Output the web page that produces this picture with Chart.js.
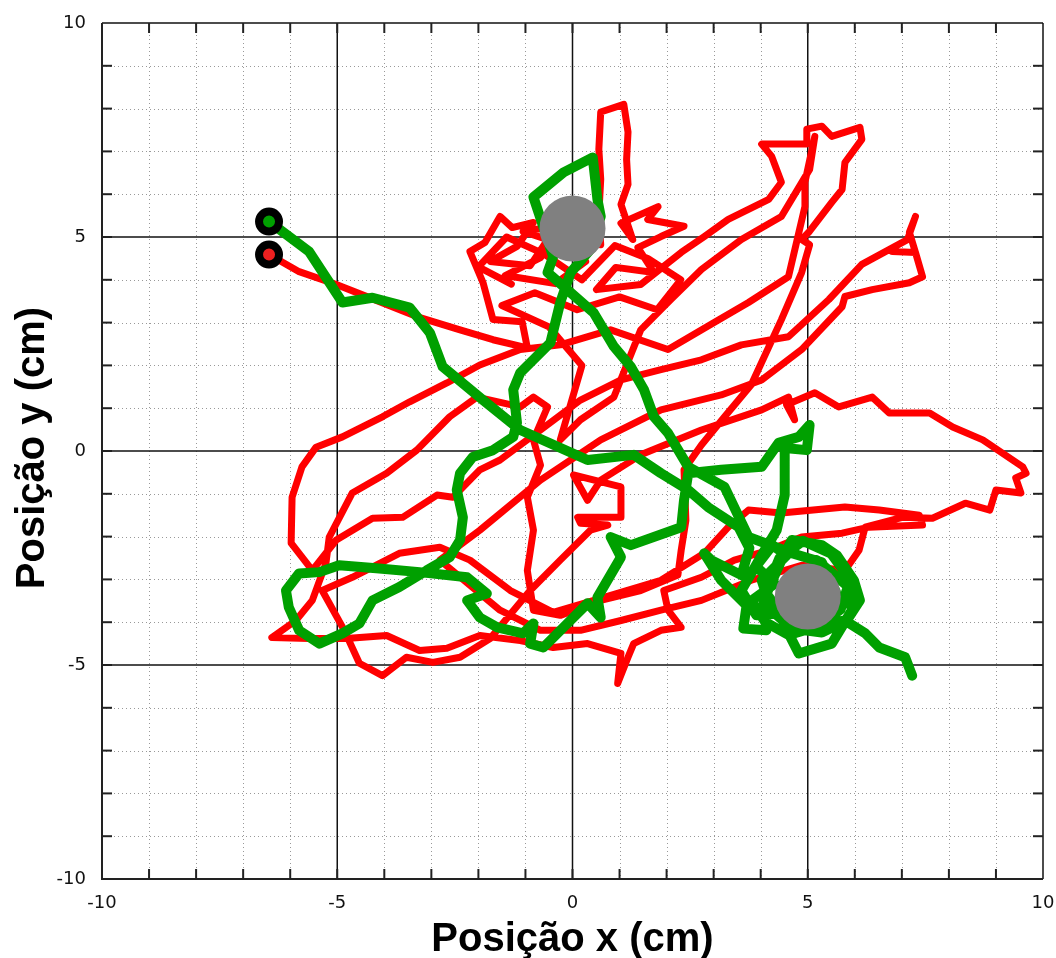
<!DOCTYPE html>
<html>
<head>
<meta charset="utf-8">
<title>Trajetória</title>
<script src="https://cdn.jsdelivr.net/npm/chart.js@4.4.1/dist/chart.umd.min.js"></script>
<style>
  html, body { margin: 0; padding: 0; background: #fff; overflow: hidden; }
  canvas { display: block; }
</style>
</head>
<body>
<canvas id="myChart" width="1056" height="958"></canvas>
<script>
// trajectory of the red walker (cm)
const redX = [
  -6.45, -5.81, -5.02, -4.10, -3.31, -2.39, -1.69, -0.96,
  -1.07, -1.69, -1.90, -2.18, -1.86, -1.54, -1.28, -0.83, -1.18, -1.75, -0.90, -0.53, -1.05, -0.26, -0.68, -1.43, -0.36, 0.28, -0.04, 0.60,
  0.56, 0.60, 0.56, 0.60, 1.09, 1.18, 1.15, 1.18, 1.03, 1.28,
  1.03, 1.82, 1.60, 2.37, 1.88, 1.39, 1.73, 0.92, 0.51,
  1.45, 2.31, 2.80, 3.31, 4.17, 4.44, 4.23, 4.02, 4.98, 4.98, 5.30, 5.51, 6.11, 6.15, 5.79, 5.73, 5.51, 5.02, 4.87, 5.04, 4.87, 4.44,
  3.80, 3.21, 2.74, 2.37, 2.41, 2.31, 2.24,
  1.45, 0.60, -0.26, -0.83, -0.96, -0.83, -0.96, -0.68, -0.83, -0.53, -0.83, -1.11,
  -2.03, -2.61, -3.31, -3.95, -4.68, -5.17, -5.24, -5.53, -5.88, -6.39,
  -5.60, -4.81, -3.95, -3.25, -2.67, -1.97, -1.11, -0.41, 0.32, 1.03, 0.96, 1.18, 1.30, 1.88, 2.31, 2.03, 1.94,
  2.74, 3.44, 4.17, 4.87, 5.73, 6.30, 7.44, 7.37, 6.52, 5.79, 4.44, 3.74, 3.31, 2.80, 1.88, 0.60, -0.41,
  -1.32, -2.18, -2.82, -3.68, -4.68, -5.32, -4.85, -4.53, -4.04, -3.53, -2.97, -2.39, -1.75,
  -0.90, -0.26, 0.38, 0.75, 0.17, 0.11, 1.03, 1.03, 0.02, 0.32, 0.60, 1.45, 2.74, 4.02,
  4.59, 4.72, 4.55, 5.15, 5.66, 6.37, 6.73, 7.59, 8.08, 8.72, 9.57, 9.64, 9.42, 9.53, 9.00, 8.87, 8.35, 7.65, 7.01, 6.22, 6.09, 5.79,
  4.87, 3.80, 2.74, 1.88, 1.03, 0.17, -0.68, -1.54,
  -2.82, -1.97, -0.68, 0.60, 1.88, 3.16, 4.02, 4.87, 5.73, 5.79, 6.37, 7.16, 7.44, 7.29, 6.80, 7.29, 7.16, 7.29, 7.12,
  6.15, 5.45, 4.59, 3.59, 2.74, 1.88, 1.03, 0.17, -0.68, -1.54, -1.97, -2.54, -2.88, -3.61, -4.25, -5.02,
  -5.53, -5.98, -5.96, -5.75, -5.45, -4.89, -4.04, -3.46, -2.67, -1.97, -1.11, -0.26, 0.81, 2.03, 3.01, 3.74, 4.59,
  4.94, 4.94, 5.15, 5.04, 4.44, 3.59, 2.74, 2.09, 1.45, 0.88, 0.17, -0.26,
  0.20, -0.50, -1.50, -0.80, 0.10, 1.00, 1.80, 2.30, 1.60, 0.90, 0.20, -0.60, -1.40, -2.00, -1.30
];
const redY = [
  4.59, 4.19, 3.89, 3.49, 3.14, 2.83, 2.60, 2.41,
  3.02, 3.07, 3.93, 4.66, 4.87, 5.48, 5.22, 5.34, 4.78, 4.43, 4.33, 4.94, 5.13, 5.27, 4.52, 4.10, 3.91, 4.43, 4.94, 4.82,
  5.53, 6.35, 7.05, 7.92, 8.10, 7.45, 6.81, 6.23, 5.76, 4.94,
  5.32, 5.71, 5.41, 5.25, 5.01, 4.75, 4.17, 4.29, 3.77,
  3.89, 4.64, 5.01, 5.41, 5.88, 6.28, 6.89, 7.17, 7.17, 7.52, 7.59, 7.35, 7.56, 7.28, 6.74, 6.11, 5.81, 5.11, 4.94, 4.82, 4.17, 3.07,
  1.55, 0.77, 0.14, -0.44, -1.62, -2.32, -2.90,
  -3.26, -3.49, -3.84, -3.72, -2.79, -1.85, -1.08, -0.33, 0.26, 1.03, 1.26, 1.03,
  1.26, 0.80, 0.02, -0.52, -0.98, -2.01, -2.62, -3.49, -3.96, -4.36,
  -4.38, -4.38, -4.31, -4.66, -4.61, -4.31, -4.43, -4.59, -4.50, -4.73, -5.43, -4.82, -4.50, -4.19, -4.12, -3.72, -3.26,
  -2.95, -2.55, -2.32, -2.01, -1.92, -1.78, -1.73, -1.50, -1.38, -1.31, -1.45, -1.38, -1.78, -2.39, -3.02, -3.44, -3.77,
  -3.26, -2.55, -2.25, -2.39, -2.95, -3.26, -4.19, -4.96, -5.25, -4.82, -4.94, -4.82, -4.38,
  -3.26, -2.55, -1.85, -1.73, -1.69, -1.55, -1.55, -0.84, -0.56, -1.15, -0.68, -0.09, 0.49, 0.96,
  1.26, 0.73, 1.08, 1.36, 1.03, 1.26, 0.89, 0.89, 0.56, 0.26, -0.37, -0.52, -0.63, -0.98, -0.91, -1.38, -1.22, -1.57, -1.55, -1.78, -2.32, -2.79,
  -2.67, -3.02, -3.49, -3.72, -3.96, -4.19, -4.19, -3.72,
  -2.55, -1.85, -0.68, 0.26, 0.96, 1.31, 1.66, 2.37, 3.37, 3.61, 3.77, 3.93, 4.07, 4.64, 4.66, 4.64, 5.11, 5.48, 4.94,
  4.36, 3.54, 2.67, 2.48, 2.13, 1.90, 1.66, 1.19, 0.49, -0.21, -0.44, -1.08, -1.03, -1.55, -1.57, -2.08,
  -2.79, -2.15, -1.08, -0.37, 0.09, 0.33, 0.80, 1.15, 1.59, 2.01, 2.37, 2.48, 2.83, 2.37, 3.00, 3.47, 4.07,
  5.71, 6.28, 7.35, 6.58, 5.48, 4.94, 4.24, 3.54, 2.83, 1.26, 0.73, 0.26,
  2.00, 2.90, 3.40, 3.70, 3.30, 3.60, 3.30, 4.00, 4.50, 4.80, 4.00, 4.60, 5.00, 4.30, 3.90
];

// trajectory of the green walker (cm)
const greenX = [
  -6.45, -5.60, -4.89, -4.25, -3.46, -3.03, -2.76, -1.90, -1.11, 0.32, 1.30, 1.88, 2.46, 2.88, 3.53, 3.76,
  3.59, 2.95, 2.80, 3.16, 3.70, 3.63, 4.12, 4.06, 4.44, 4.66, 5.30, 5.62, 5.98, 6.11, 5.83, 5.30, 4.66, 4.23, 4.02, 4.55,
  4.25, 3.90, 4.30, 3.80, 4.10, 4.60, 5.20, 5.70, 5.90, 5.50, 4.90, 4.40, 4.10, 4.50, 5.30, 5.60, 5.30, 4.70,
  3.74, 3.23, 2.46, 2.03, 1.73, 1.52, 1.24, 0.88, 0.45, -0.04, -0.53, -0.41, -0.83, -0.19, 0.43, 0.53, 0.60, 0.38, -0.04, -0.26, -0.47, -1.11,
  -1.26, -1.18, -1.26, -1.69, -2.12, -2.39, -2.46, -2.33, -2.39, -2.61, -3.10, -3.68, -4.25, -4.53, -4.89, -5.38, -5.81, -6.03, -6.09,
  -5.81, -5.38, -4.96, -4.17, -3.25, -2.24, -1.82, -2.24, -1.97, -1.60, -1.05, -0.83, -0.90, -0.62, -0.11, 0.32, 0.60, 0.53,
  1.03, 0.81, 1.24, 2.31, 2.37, 2.46, 3.16, 4.02, 4.38, 4.81, 5.04, 4.98, 4.51, 4.51, 4.34, 4.02,
  3.59, 3.91, 4.66, 5.19, 5.83, 5.94, 5.51, 4.81, 4.59, 5.19, 5.79, 6.22, 6.52, 7.07, 7.22
];
const greenY = [
  5.36, 4.66, 3.47, 3.58, 3.35, 2.76, 1.97, 1.19, 0.49, -0.21, -0.09, -0.52, -0.91, -1.31, -1.78, -2.27,
  -2.90, -2.55, -2.39, -3.02, -3.61, -4.15, -4.19, -3.49, -2.55, -2.08, -2.20, -2.44, -3.02, -3.49, -3.96, -4.24, -4.15, -3.72, -3.02, -2.44,
  -2.20, -2.70, -3.10, -3.50, -4.00, -4.30, -4.10, -3.70, -3.00, -2.40, -2.10, -2.50, -3.30, -3.90, -3.90, -3.30, -2.60, -2.40,
  -2.01, -0.84, -0.37, 0.42, 0.80, 1.43, 1.97, 2.44, 3.23, 3.70, 4.17, 4.54, 5.93, 6.51, 6.86, 5.88, 5.48, 4.71, 4.17, 3.47, 2.53, 1.83,
  1.43, 0.66, 0.33, 0.02, -0.14, -0.52, -0.91, -1.55, -2.08, -2.48, -2.79, -3.18, -3.49, -4.03, -4.26, -4.50, -4.19, -3.65, -3.26,
  -2.86, -2.83, -2.67, -2.74, -2.83, -2.95, -3.33, -3.49, -3.89, -4.12, -4.26, -4.03, -4.50, -4.59, -4.03, -3.56, -3.89, -3.42,
  -2.48, -2.01, -2.20, -1.78, -1.15, -0.52, -0.44, -0.37, 0.19, 0.33, 0.61, 0.02, 0.07, -1.03, -1.85, -2.44,
  -3.26, -3.84, -3.77, -2.55, -3.14, -3.72, -4.50, -4.73, -4.26, -4.07, -3.96, -4.26, -4.59, -4.82, -5.25
];

// the two grey targets
const targetX = [0, 5];
const targetY = [5.2, -3.4];

// axis range and labelled ticks
const axisMin = -10;
const axisMax = 10;
const majorTicks = [-10, -5, 0, 5, 10];

const toPoints = (xs, ys) => xs.map((v, i) => ({ x: v, y: ys[i] }));

const gridFrame = {
  id: 'gridFrame',
  beforeDatasetsDraw(chart) {
    const { ctx, chartArea: a, scales: { x, y } } = chart;
    const line = (x1, y1, x2, y2) => { ctx.beginPath(); ctx.moveTo(x1, y1); ctx.lineTo(x2, y2); ctx.stroke(); };
    ctx.save();

    // dotted minor grid
    ctx.strokeStyle = '#999';
    ctx.lineWidth = 1;
    ctx.setLineDash([1, 3]);
    for (let v = axisMin + 1; v < axisMax; v++) {
      if (majorTicks.includes(v)) continue;
      const px = Math.round(x.getPixelForValue(v)) + 0.5;
      const py = Math.round(y.getPixelForValue(v)) + 0.5;
      line(px, a.top, px, a.bottom);
      line(a.left, py, a.right, py);
    }

    // solid major grid
    ctx.setLineDash([]);
    ctx.strokeStyle = '#111';
    ctx.lineWidth = 1.5;
    majorTicks.forEach(v => {
      const px = x.getPixelForValue(v);
      const py = y.getPixelForValue(v);
      line(px, a.top, px, a.bottom);
      line(a.left, py, a.right, py);
    });

    // inward tick marks on all four sides
    ctx.strokeStyle = '#222';
    ctx.lineWidth = 2;
    for (let v = axisMin + 1; v < axisMax; v++) {
      const px = x.getPixelForValue(v);
      const py = y.getPixelForValue(v);
      line(px, a.bottom, px, a.bottom - 10);
      line(px, a.top, px, a.top + 10);
      line(a.left, py, a.left + 10, py);
      line(a.right, py, a.right - 10, py);
    }

    // axis lines
    ctx.lineWidth = 2;
    line(a.left, a.top, a.left, a.bottom + 1);
    line(a.left - 1, a.bottom, a.right, a.bottom);
    ctx.restore();
  },
  afterDraw(chart) {
    const { ctx, chartArea: a, scales: { x, y } } = chart;
    ctx.save();

    // tick labels
    ctx.fillStyle = '#111';
    ctx.font = '18px "DejaVu Sans"';
    ctx.textBaseline = 'middle';
    ctx.textAlign = 'right';
    majorTicks.forEach(v => ctx.fillText(String(v), a.left - 16, y.getPixelForValue(v)));
    ctx.textAlign = 'center';
    majorTicks.forEach(v => ctx.fillText(String(v), x.getPixelForValue(v), a.bottom + 24));

    // axis titles
    ctx.fillStyle = '#000';
    ctx.font = 'bold 40px "Liberation Sans"';
    ctx.textBaseline = 'alphabetic';
    ctx.fillText('Posição x (cm)', (a.left + a.right) / 2, 951);
    ctx.translate(44, (a.top + a.bottom) / 2 - 3);
    ctx.rotate(-Math.PI / 2);
    ctx.fillText('Posição y (cm)', 0, 0);
    ctx.restore();
  }
};

const config = {
  type: 'scatter',
  data: {
    datasets: [
      {
        label: 'Início',
        data: [{ x: greenX[0], y: greenY[0] }, { x: redX[0], y: redY[0] }],
        pointRadius: 10,
        pointBorderWidth: 8,
        pointBorderColor: '#000',
        pointBackgroundColor: ['#00a000', '#ee2020'],
        order: 0
      },
      {
        label: 'Alvos',
        data: toPoints(targetX, targetY),
        pointRadius: 33,
        pointBorderWidth: 0,
        pointBackgroundColor: '#808080',
        order: 1
      },
      {
        label: 'Verde',
        data: toPoints(greenX, greenY),
        showLine: true,
        borderColor: '#00a000',
        borderWidth: 10,
        borderJoinStyle: 'round',
        borderCapStyle: 'round',
        pointRadius: 0,
        pointHoverRadius: 0,
        order: 2
      },
      {
        label: 'Vermelho',
        data: toPoints(redX, redY),
        showLine: true,
        borderColor: '#ff0000',
        borderWidth: 7,
        borderJoinStyle: 'round',
        borderCapStyle: 'round',
        pointRadius: 0,
        pointHoverRadius: 0,
        order: 3
      }
    ]
  },
  options: {
    responsive: false,
    animation: false,
    devicePixelRatio: 1,
    // the big target dots would otherwise push the plot area inwards
    layout: { autoPadding: false, padding: { top: 23, right: 13, left: 0, bottom: 0 } },
    plugins: {
      legend: { display: false },
      tooltip: { enabled: false }
    },
    scales: {
      x: {
        type: 'linear',
        min: axisMin,
        max: axisMax,
        grid: { display: false, drawTicks: false },
        border: { display: false },
        ticks: { display: false, stepSize: 1 },
        afterFit(scale) { scale.height = 79; }
      },
      y: {
        type: 'linear',
        min: axisMin,
        max: axisMax,
        grid: { display: false, drawTicks: false },
        border: { display: false },
        ticks: { display: false, stepSize: 1 },
        afterFit(scale) { scale.width = 102; }
      }
    }
  },
  plugins: [gridFrame]
};

const myChart = new Chart(document.getElementById('myChart'), config);
</script>
</body>
</html>
